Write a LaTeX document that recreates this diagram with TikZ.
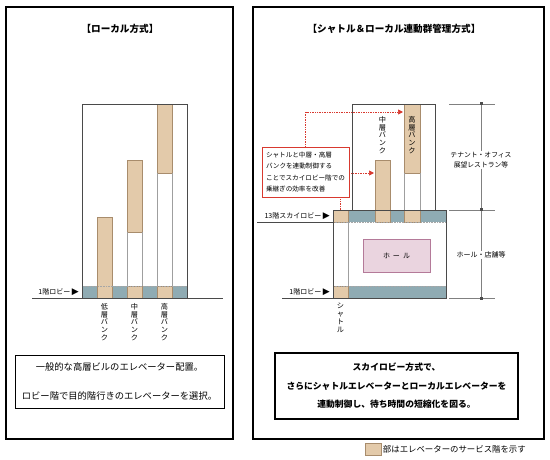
\documentclass[tikz,border=0pt]{standalone}
\usepackage{fontspec}
\setmainfont{Noto Sans CJK JP}
\newfontfamily\symfont{DejaVu Sans}
\usetikzlibrary{positioning,arrows.meta}

\definecolor{svtan}{HTML}{E3CAAA}
\definecolor{svtanedge}{HTML}{A88C6C}
\definecolor{lobbyblue}{HTML}{8FABB3}
\definecolor{hallpink}{HTML}{EAD4DF}
\definecolor{halledge}{HTML}{B47A99}
\definecolor{hintred}{HTML}{D8392F}
\definecolor{inkgray}{HTML}{4A4A4A}

\tikzset{
	panel/.style={draw=black,line width=1.2pt},
	bldg/.style={draw=inkgray,line width=0.9pt},
	svc/.style={fill=svtan,draw=svtanedge,line width=0.5pt},
	lobby/.style={fill=lobbyblue},
	shaftline/.style={draw=gray!75,line width=0.6pt},
	floorline/.style={draw=gray!70,densely dotted,line width=0.6pt},
	title/.style={font=\fontsize{9.6}{11}\selectfont\bfseries,text=black},
	lbl/.style={font=\fontsize{7}{8}\selectfont,text=black,inner sep=1pt},
	tate/.style={align=center,font=\fontsize{7.2}{7.8}\selectfont,text=black,inner sep=0pt,anchor=north},
	note/.style={draw=black,align=center,inner sep=0pt,text=black},
	hint/.style={draw=hintred,densely dotted,line width=0.7pt},
	tip/.style={-{Triangle[length=5pt,width=5pt]}},
	dim/.style={draw=gray,line width=0.7pt},
}

\begin{document}
\begin{tikzpicture}[x=1pt,y=-1pt]
	\useasboundingbox (0,0) rectangle (550,460);

	% local system
	\draw[panel] (6,7) rectangle (233,439);
	\node[title] (ltitle) at (120,29) {【ローカル方式】};

	\fill[lobby] (82,286) rectangle (187,298);
	\filldraw[svc] (97,217) rectangle (112,298);
	\filldraw[svc] (127,160) rectangle (142,232);
	\filldraw[svc] (127,286) rectangle (142,298);
	\filldraw[svc] (157,104) rectangle (172,173);
	\filldraw[svc] (157,286) rectangle (172,298);
	\draw[shaftline] (127,232) -- (127,286) (142,232) -- (142,286);
	\draw[shaftline] (157,173) -- (157,286) (172,173) -- (172,286);
	\draw[floorline] (82,286) -- (187,286);
	\draw[bldg] (82,298) -- (82,104) -- (187,104) -- (187,298);
	\draw[bldg,line width=0.7pt] (32,298) -- (223,298);

	\node[lbl,anchor=east] (llobby) at (80,292) {1階ロビー {\symfont\fontsize{9}{9}\selectfont ▶}};
	\node[tate] (lowbank) at (104.5,303) {低\\層\\バ\\ン\\ク};
	\node[tate] (midbank) at (134.5,303) {中\\層\\バ\\ン\\ク};
	\node[tate] (highbank) at (164.5,303) {高\\層\\バ\\ン\\ク};

	\node[note,line width=0.7pt,minimum width=209pt,minimum height=53pt,
		font=\fontsize{9.3}{11}\selectfont] (lnote) at (119.5,381.5)
		{一般的な高層ビルのエレベーター配置。\\[18pt]ロビー階で目的階行きのエレベーターを選択。};

	% shuttle + local system
	\draw[panel,line width=2pt] (253,7) rectangle (544,439);
	\node[title] (rtitle) at (394,29) {【シャトル＆ローカル連動群管理方式】};

	\fill[lobby] (348,210) rectangle (446,222);
	\fill[lobby] (348,286) rectangle (446,298);
	\filldraw[svc] (333,210) rectangle (348,222);
	\filldraw[svc] (333,286) rectangle (348,298);
	\filldraw[svc] (375,160) rectangle (390,222);
	\filldraw[svc] (404,104) rectangle (420,173);
	\filldraw[svc] (404,210) rectangle (420,222);
	\draw[shaftline] (404,173) -- (404,210) (420,173) -- (420,210);
	\draw[shaftline] (348,222) -- (348,286);
	\draw[floorline] (333,222) -- (446,222) (333,286) -- (446,286);
	\draw[bldg] (352,210) -- (352,104) -- (435,104) -- (435,210);
	\draw[bldg] (333,210) rectangle (446,298);
	\draw[bldg,line width=0.7pt] (257,222) -- (333,222);
	\draw[bldg,line width=0.7pt] (282,298) -- (333,298);

	\node[draw=halledge,fill=hallpink,line width=0.8pt,minimum width=67pt,minimum height=33pt,
		font=\fontsize{7}{8}\selectfont] (hall) at (396.5,255.5) {ホ\hspace{3pt}ー\hspace{3pt}ル};

	\node[lbl,anchor=east] (skylobby) at (331,216) {13階スカイロビー {\symfont\fontsize{9}{9}\selectfont ▶}};
	\node[lbl,anchor=east] (rlobby) at (331,292) {1階ロビー {\symfont\fontsize{9}{9}\selectfont ▶}};
	\node[tate] (rmidbank) at (382.5,116) {中\\層\\バ\\ン\\ク};
	\node[tate] (rhighbank) at (412,116) {高\\層\\バ\\ン\\ク};
	\node[tate] (shuttle) at (340.5,303) {シ\\ャ\\ト\\ル};

	% floor ranges
	\draw[dim] (449,104) -- (495,104) (449,210) -- (495,210) (449,298) -- (495,298);
	\draw[dim,line width=1pt] (481,104) -- (481,298);
	\foreach \y in {104,210,298}
		\fill[black!70] (479.5,\y-1.5) rectangle (482.5,\y+1.5);
	\node[lbl,fill=white,align=center,font=\fontsize{6.8}{10}\selectfont] (upper) at (481,160) {テナント・オフィス\\展望レストラン等};
	\node[lbl,fill=white,font=\fontsize{7}{8}\selectfont] (lower) at (481,255) {ホール・店舗等};

	% callout
	\node[draw=hintred,fill=white,line width=0.9pt,align=left,inner sep=3pt,
		minimum width=87pt,minimum height=50pt,font=\fontsize{6.6}{11.3}\selectfont] (callout) at (305.5,172)
		{シャトルと中層・高層\\バンクを連動制御する\\ことでスカイロビー階での\\乗継ぎの効率を改善};
	\coordinate (hightip) at (403,112);
	\coordinate (midtip) at (374,173);
	\coordinate (shuttletop) at (340,210);
	\draw[hint,tip] (callout.north) |- (hightip);
	\draw[hint,tip] (callout.east |- midtip) -- (midtip);
	\draw[hint] (callout.south -| shuttletop) -- (shuttletop);

	\node[note,line width=2pt,minimum width=243pt,minimum height=66pt,
		font=\fontsize{8.8}{18.5}\selectfont\bfseries] (rnote) at (396.5,386)
		{スカイロビー方式で、\\さらにシャトルエレベーターとローカルエレベーターを\\連動制御し、待ち時間の短縮化を図る。};

	% legend
	\node[svc,minimum width=16pt,minimum height=12pt,inner sep=0pt] (key) at (373.5,449) {};
	\node[lbl,anchor=west,font=\fontsize{8.4}{9}\selectfont] (keytext) at (key.east) {部はエレベーターのサービス階を示す};
\end{tikzpicture}
\end{document}
